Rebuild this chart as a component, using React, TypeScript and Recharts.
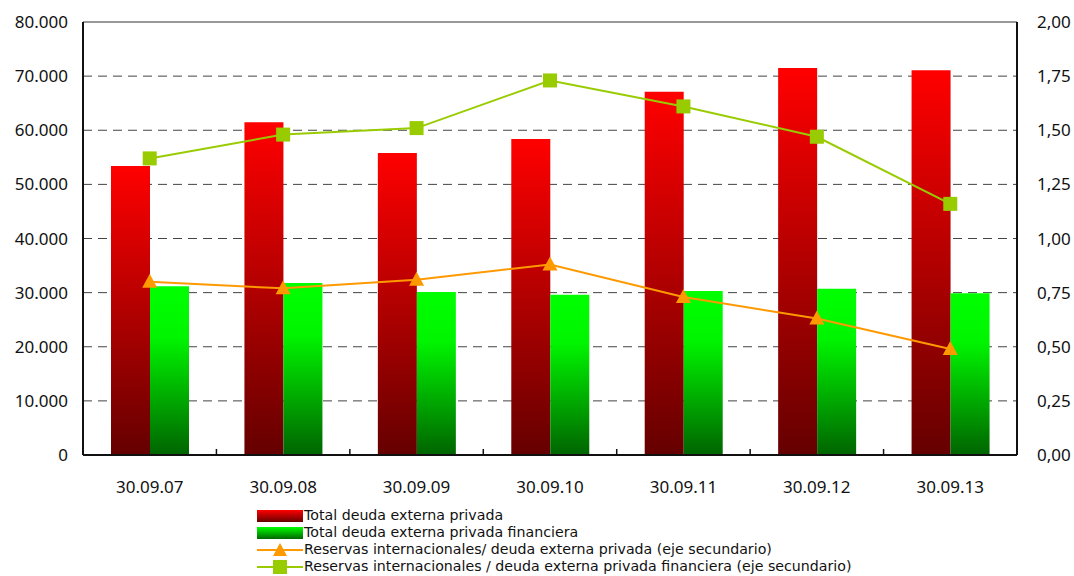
import React from 'react';
import {
  ComposedChart,
  Bar,
  Line,
  XAxis,
  YAxis,
  CartesianGrid,
  ReferenceLine
} from 'recharts';

const categories = ['30.09.07', '30.09.08', '30.09.09', '30.09.10', '30.09.11', '30.09.12', '30.09.13'];
const deudaPrivada = [53400, 61500, 55800, 58400, 67100, 71500, 71100];
const deudaFinanciera = [31200, 31800, 30100, 29600, 30300, 30700, 29900];
const ratioPrivada = [0.8, 0.77, 0.81, 0.88, 0.73, 0.63, 0.49];
const ratioFinanciera = [1.37, 1.48, 1.51, 1.73, 1.61, 1.47, 1.16];

const leftTicks = [0, 10000, 20000, 30000, 40000, 50000, 60000, 70000, 80000];
const rightTicks = [0, 0.25, 0.5, 0.75, 1, 1.25, 1.5, 1.75, 2];

const legendLabels = [
  'Total deuda externa privada',
  'Total deuda externa privada financiera',
  'Reservas internacionales/ deuda externa privada (eje secundario)',
  'Reservas internacionales / deuda externa privada financiera (eje secundario)'
];

const ORANGE = '#FF9900';
const LIME = '#99CC00';
const FONT = '"Noto Sans", sans-serif';
const LEGEND_FONT = '"DejaVu Sans", sans-serif';
const X_TICK_MARGIN = 26;

const data = categories.map((c, i) => ({
  name: c,
  privada: deudaPrivada[i],
  financiera: deudaFinanciera[i],
  rPrivada: ratioPrivada[i],
  rFinanciera: ratioFinanciera[i]
}));

const formatLeft = (v: number) => (v === 0 ? '0' : (v / 1000).toFixed(0) + '.000');
const formatRight = (v: number) => v.toFixed(2).replace('.', ',');

// category label plus the small boundary tick between categories (pointing up)
const CategoryTick = (props: any) => {
  const { x, y, payload, index, width, visibleTicksCount } = props;
  const axisY = y - X_TICK_MARGIN;
  const half = payload.offset || (width && visibleTicksCount ? width / visibleTicksCount / 2 : 0);
  return (
    <g>
      {index > 0 && half > 0 && (
        <line x1={x - half} x2={x - half} y1={axisY} y2={axisY - 6} stroke="#111" strokeWidth={1.5} />
      )}
      <text x={x} y={y} dy="0.71em" textAnchor="middle" fill="#111" fontSize={17} fontFamily={FONT}>
        {payload.value}
      </text>
    </g>
  );
};

const Triangle = (props: any) => {
  const { cx, cy } = props;
  if (cx == null || cy == null) return null;
  return <path d={`M${cx},${cy - 8} L${cx + 7.5},${cy + 6} L${cx - 7.5},${cy + 6} Z`} fill={ORANGE} />;
};

const Square = (props: any) => {
  const { cx, cy } = props;
  if (cx == null || cy == null) return null;
  return <rect x={cx - 7} y={cy - 7} width={14} height={14} fill={LIME} />;
};

const LegendIcon = ({ index }: { index: number }) => {
  if (index === 0 || index === 1) {
    return (
      <svg width={46} height={14} style={{ display: 'block' }}>
        <defs>
          <linearGradient id={`leg${index}`} x1="0" y1="0" x2="0" y2="1">
            <stop offset="0%" stopColor={index === 0 ? '#FF0000' : '#00FF00'} />
            <stop offset="100%" stopColor={index === 0 ? '#660000' : '#006600'} />
          </linearGradient>
        </defs>
        <rect x={0} y={1} width={46} height={12} fill={`url(#leg${index})`} />
      </svg>
    );
  }
  const color = index === 2 ? ORANGE : LIME;
  return (
    <svg width={46} height={16} style={{ display: 'block' }}>
      <line x1={0} y1={8} x2={46} y2={8} stroke={color} strokeWidth={2} />
      {index === 2 ? (
        <path d="M23,1 L30,14 L16,14 Z" fill={color} />
      ) : (
        <rect x={16} y={1} width={14} height={14} fill={color} />
      )}
    </svg>
  );
};

export default function App() {
  return (
    <div style={{ position: 'absolute', left: 0, top: 0, width: 1074, height: 576, background: '#fff', fontFamily: FONT }}>
      <ComposedChart
        width={1074}
        height={576}
        data={data}
        margin={{ top: 22, right: 0, left: 0, bottom: 81 }}
        barGap={0}
      >
        <defs>
          <linearGradient id="gradRed" x1="0" y1="0" x2="0" y2="1">
            <stop offset="0%" stopColor="#FF0000" />
            <stop offset="100%" stopColor="#650000" />
          </linearGradient>
          <linearGradient id="gradGreen" x1="0" y1="0" x2="0" y2="1">
            <stop offset="0%" stopColor="#00FF00" />
            <stop offset="30%" stopColor="#00F500" />
            <stop offset="100%" stopColor="#006400" />
          </linearGradient>
        </defs>
        <CartesianGrid vertical={false} stroke="#444" strokeDasharray="9 6" yAxisId="left" />
        <ReferenceLine y={80000} yAxisId="left" stroke="#999" strokeWidth={2} />
        <XAxis
          dataKey="name"
          height={40}
          tickLine={false}
          tickSize={0}
          tickMargin={X_TICK_MARGIN}
          interval={0}
          axisLine={{ stroke: '#111', strokeWidth: 2 }}
          tick={<CategoryTick />}
        />
        <YAxis
          yAxisId="left"
          width={83}
          domain={[0, 80000]}
          ticks={leftTicks}
          tickFormatter={formatLeft}
          interval={0}
          tickLine={false}
          tickSize={5}
          tickMargin={10}
          axisLine={{ stroke: '#111', strokeWidth: 2 }}
          tick={{ fill: '#111', fontSize: 17, fontFamily: FONT }}
        />
        <YAxis
          yAxisId="right"
          orientation="right"
          width={57}
          domain={[0, 2]}
          ticks={rightTicks}
          tickFormatter={formatRight}
          interval={0}
          tickLine={false}
          tickSize={5}
          tickMargin={15}
          axisLine={{ stroke: '#111', strokeWidth: 2 }}
          tick={{ fill: '#111', fontSize: 17, fontFamily: FONT, textAnchor: 'start' }}
        />
        <Bar yAxisId="left" dataKey="privada" barSize={39} fill="url(#gradRed)" isAnimationActive={false} />
        <Bar yAxisId="left" dataKey="financiera" barSize={39} fill="url(#gradGreen)" isAnimationActive={false} />
        <Line
          yAxisId="right"
          dataKey="rPrivada"
          type="linear"
          stroke={ORANGE}
          strokeWidth={2}
          dot={<Triangle />}
          activeDot={false}
          isAnimationActive={false}
        />
        <Line
          yAxisId="right"
          dataKey="rFinanciera"
          type="linear"
          stroke={LIME}
          strokeWidth={2}
          dot={<Square />}
          activeDot={false}
          isAnimationActive={false}
        />
      </ComposedChart>
      <div style={{ position: 'absolute', left: 257, top: 507, fontSize: 14.2, fontFamily: LEGEND_FONT, color: '#111', lineHeight: '17px' }}>
        {legendLabels.map((label, i) => (
          <div key={label} style={{ display: 'flex', alignItems: 'center', height: 17 }}>
            <LegendIcon index={i} />
            <span style={{ marginLeft: 1, whiteSpace: 'nowrap' }}>{label}</span>
          </div>
        ))}
      </div>
    </div>
  );
}
